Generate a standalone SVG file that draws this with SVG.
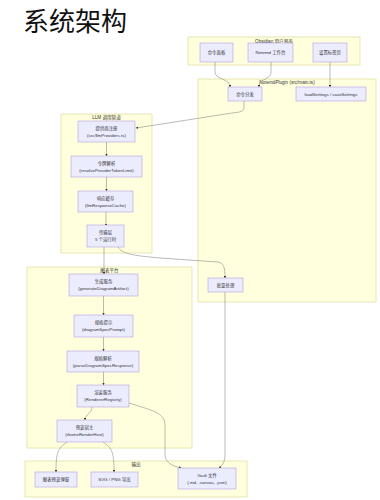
<svg xmlns="http://www.w3.org/2000/svg" width="380" height="500" viewBox="0 0 380 500">
<defs>
<style>
.bg{fill:#ffffff}
.title{font-family:"Liberation Sans","Noto Sans CJK SC",sans-serif;font-size:26px;fill:#111}
.cluster rect{fill:#ffffde;stroke:#cccc77;stroke-width:0.5}
.cl{font-family:"Liberation Sans","Noto Sans CJK SC",sans-serif;font-size:4.6px;fill:#333;text-anchor:middle;dominant-baseline:central}
.node rect{fill:#ececff;stroke:#a58ee0;stroke-width:0.5}
.node text{font-family:"Liberation Sans","Noto Sans CJK SC",sans-serif;font-size:4.4px;fill:#333;text-anchor:middle;dominant-baseline:central}
.edges path{fill:none;stroke:#777;stroke-width:0.5;marker-end:url(#arr)}
</style>
<marker id="arr" viewBox="0 0 10 10" refX="9" refY="5" markerUnits="userSpaceOnUse" markerWidth="2.4" markerHeight="2.4" orient="auto">
<path d="M0,0 L10,5 L0,10 z" fill="#333"/>
</marker>
</defs>
<rect class="bg" x="0" y="0" width="380" height="500"/>
<text class="title" x="23" y="31">系统架构</text>

<g id="cluster-obsidian" class="cluster"><rect x="188" y="37" width="172" height="28"/><text class="cl" x="274" y="41">Obsidian 用户界面</text></g>
<g id="cluster-plugin" class="cluster"><rect x="198" y="79" width="178" height="223"/><text class="cl" x="287" y="82.5">NotemdPlugin (src/main.ts)</text></g>
<g id="cluster-llm" class="cluster"><rect x="61" y="114" width="91" height="139"/><text class="cl" x="106.5" y="117.5">LLM 调用管道</text></g>
<g id="cluster-diagram" class="cluster"><rect x="27" y="267" width="165" height="181"/><text class="cl" x="109.5" y="270.5">图表平台</text></g>
<g id="cluster-output" class="cluster"><rect x="25" y="461" width="222" height="36"/><text class="cl" x="136" y="464.5">输出</text></g>

<g class="edges" id="edges">
<path d="M215,62 V72 C215,80 230,78 230,87"/>
<path d="M271,62 V72 C271,80 259,78 259,87"/>
<path d="M330,62 V87"/>
<path d="M244,101 V107 C244,112 240,112 232,113 L136,128"/>
<path d="M106.5,142 V156"/>
<path d="M106.5,177 V191"/>
<path d="M106,212 V226"/>
<path d="M104,247 V274"/>
<path d="M118,247 C122,255 140,256 160,258 L218,262 C224,263 225,268 225,278"/>
<path d="M103.5,296 V315"/>
<path d="M103.5,337 V351"/>
<path d="M103.5,372 V385"/>
<path d="M92,407 C92,414 85,414 85,420"/>
<path d="M129,403 C150,410 165,412 165,425 V455 C165,462 172,466 181,468"/>
<path d="M225,292 V455 C225,462 222,466 219,468"/>
<path d="M67,442 C58,448 56,452 56,472"/>
<path d="M103,442 C112,448 114,452 114,472"/>
</g>

<g id="n-palette" class="node"><rect x="200" y="43" width="33" height="19"/><text x="216.5" y="52.5">命令面板</text></g>
<g id="n-workbench" class="node"><rect x="248" y="43" width="45" height="19"/><text x="270.5" y="52.5">Notemd 工作台</text></g>
<g id="n-settingsTab" class="node"><rect x="313" y="43" width="34" height="19"/><text x="330" y="52.5">设置标签页</text></g>

<g id="n-dispatch" class="node"><rect x="228" y="87" width="34" height="14"/><text x="245" y="94">命令分发</text></g>
<g id="n-settings" class="node"><rect x="296" y="87" width="70" height="14"/><text x="331" y="94">loadSettings / saveSettings</text></g>
<g id="n-batch" class="node"><rect x="208" y="278" width="35" height="14"/><text x="225.5" y="285">批量处理</text></g>

<g id="n-providers" class="node"><rect x="78" y="121" width="57" height="21"/><text x="106.5" y="128">提供商注册</text><text x="106.5" y="135">(src/llmProviders.ts)</text></g>
<g id="n-token" class="node"><rect x="71" y="156" width="71" height="21"/><text x="106.5" y="163">令牌解析</text><text x="106.5" y="170">(resolveProviderTokenLimit)</text></g>
<g id="n-cache" class="node"><rect x="78" y="191" width="55" height="21"/><text x="105.5" y="198">响应缓存</text><text x="105.5" y="205">(llmResponseCache)</text></g>
<g id="n-transport" class="node"><rect x="87" y="225" width="37" height="22"/><text x="105.5" y="232.5">传输层</text><text x="105.5" y="239.5">5 个运行时</text></g>

<g id="n-generate" class="node"><rect x="69" y="274" width="69" height="22"/><text x="103.5" y="281.5">生成服务</text><text x="103.5" y="288.5">(generateDiagramArtifact)</text></g>
<g id="n-prompt" class="node"><rect x="74" y="315" width="59" height="22"/><text x="103.5" y="322.5">规格提示</text><text x="103.5" y="329.5">(diagramSpecPrompt)</text></g>
<g id="n-parse" class="node"><rect x="67" y="351" width="72" height="21"/><text x="103" y="358">规格解析</text><text x="103" y="365">(parseDiagramSpecResponse)</text></g>
<g id="n-render" class="node"><rect x="77" y="385" width="52" height="22"/><text x="103" y="392.5">渲染服务</text><text x="103" y="399.5">(RendererRegistry)</text></g>
<g id="n-host" class="node"><rect x="57" y="420" width="55" height="22"/><text x="84.5" y="427.5">预览宿主</text><text x="84.5" y="434.5">(iframeRenderHost)</text></g>

<g id="n-modal" class="node"><rect x="35" y="472" width="42" height="15"/><text x="56" y="479.5">图表预览弹窗</text></g>
<g id="n-export" class="node"><rect x="91" y="472" width="47" height="15"/><text x="114.5" y="479.5">SVG / PNG 导出</text></g>
<g id="n-vault" class="node"><rect x="178" y="468" width="58" height="21"/><text x="207" y="475">Vault 文件</text><text x="207" y="482">(.md, .canvas, .json)</text></g>
</svg>
